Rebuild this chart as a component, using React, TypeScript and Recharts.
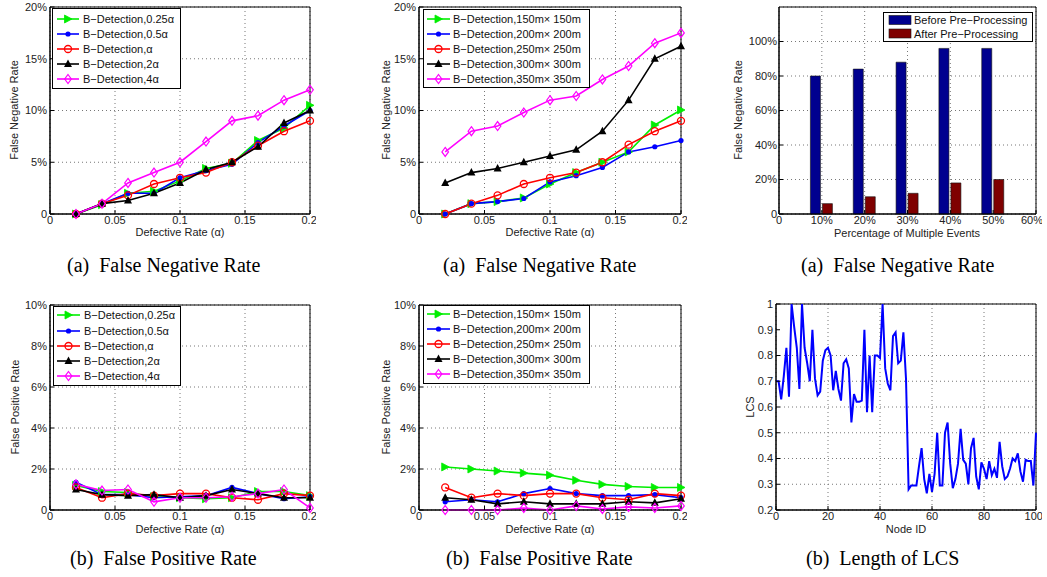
import React from 'react';
import { LineChart, Line, BarChart, Bar, XAxis, YAxis, CartesianGrid, ReferenceArea } from 'recharts';

// x values shared by the four rate plots
const defectRates = [0.02, 0.04, 0.06, 0.08, 0.1, 0.12, 0.14, 0.16, 0.18, 0.2];
const rateTicks = [0, 0.05, 0.1, 0.15, 0.2];

const toleranceLabels = ['B−Detection,0.25α', 'B−Detection,0.5α', 'B−Detection,α', 'B−Detection,2α', 'B−Detection,4α'];
const areaLabels = ['B−Detection,150m× 150m', 'B−Detection,200m× 200m', 'B−Detection,250m× 250m', 'B−Detection,300m× 300m', 'B−Detection,350m× 350m'];

// false negative rate (%) vs tolerance
const fnTol025 = [0, 0.9, 2.0, 2.2, 3.2, 4.4, 4.9, 7.1, 8.3, 10.5];
const fnTol05 = [0, 1.0, 2.0, 2.0, 3.5, 4.2, 4.8, 6.9, 8.5, 10.0];
const fnTol1 = [0, 1.0, 1.8, 2.9, 3.5, 4.0, 5.0, 6.6, 8.0, 9.0];
const fnTol2 = [0, 1.0, 1.3, 2.0, 3.0, 4.3, 5.0, 6.5, 8.8, 10.0];
const fnTol4 = [0, 1.0, 3.0, 4.0, 5.0, 7.0, 9.0, 9.5, 11.0, 12.0];

// false negative rate (%) vs field size
const fnArea150 = [0, 1.0, 1.2, 1.55, 2.9, 4.0, 5.0, 6.0, 8.6, 10.05];
const fnArea200 = [0, 1.0, 1.2, 1.5, 3.1, 3.7, 4.5, 6.0, 6.5, 7.1];
const fnArea250 = [0, 1.0, 1.8, 2.9, 3.5, 4.0, 5.0, 6.7, 8.0, 9.0];
const fnArea300 = [3.0, 4.0, 4.4, 5.0, 5.6, 6.2, 8.0, 11.0, 15.0, 16.2];
const fnArea350 = [6.0, 8.0, 8.5, 9.8, 11.0, 11.4, 13.0, 14.3, 16.5, 17.5];

// false positive rate (%) vs tolerance
const fpTol025 = [1.2, 0.9, 0.85, 0.65, 0.6, 0.55, 0.6, 0.9, 0.9, 0.7];
const fpTol05 = [1.35, 0.75, 0.75, 0.6, 0.65, 0.7, 1.1, 0.8, 0.55, 0.65];
const fpTol1 = [1.1, 0.6, 0.8, 0.7, 0.8, 0.8, 0.6, 0.5, 0.8, 0.7];
const fpTol2 = [1.0, 0.75, 0.7, 0.75, 0.6, 0.7, 1.0, 0.8, 0.6, 0.6];
const fpTol4 = [1.25, 0.95, 1.0, 0.4, 0.6, 0.6, 0.65, 0.8, 1.0, 0.1];

// false positive rate (%) vs field size
const fpArea150 = [2.1, 2.0, 1.9, 1.8, 1.7, 1.45, 1.25, 1.15, 1.1, 1.1];
const fpArea200 = [0.4, 0.5, 0.4, 0.8, 1.05, 0.8, 0.7, 0.7, 0.75, 0.6];
const fpArea250 = [1.1, 0.6, 0.8, 0.7, 0.8, 0.8, 0.6, 0.5, 0.8, 0.7];
const fpArea300 = [0.6, 0.5, 0.3, 0.4, 0.3, 0.3, 0.3, 0.4, 0.35, 0.55];
const fpArea350 = [0, 0, 0, 0.1, 0, 0.2, 0.05, 0.15, 0.1, 0.2];

// multiple events
const eventPcts = [10, 20, 30, 40, 50];
const beforePre = [80, 84, 88, 96, 96];
const afterPre = [6, 10, 12, 18, 20];

// LCS per node, node 0..100
const lcs = [
  0.70, 0.70, 0.63, 0.72, 0.83, 0.64, 1.0, 0.91, 0.83, 0.67,
  1.0, 0.83, 0.77, 0.70, 0.90, 0.71, 0.645, 0.66, 0.78, 0.82,
  0.83, 0.80, 0.665, 0.74, 0.67, 0.625, 0.77, 0.785, 0.75, 0.54,
  0.65, 0.62, 0.62, 0.625, 0.90, 0.58, 0.80, 0.58, 0.80, 0.80,
  0.79, 1.0, 0.75, 0.69, 0.665, 0.875, 0.89, 0.77, 0.78, 0.89,
  0.71, 0.28, 0.295, 0.295, 0.295, 0.37, 0.44, 0.32, 0.265, 0.34,
  0.27, 0.34, 0.50, 0.295, 0.295, 0.50, 0.54, 0.38, 0.285, 0.32,
  0.38, 0.515, 0.395, 0.38, 0.30, 0.44, 0.48, 0.33, 0.28, 0.385,
  0.36, 0.32, 0.39, 0.335, 0.36, 0.325, 0.465, 0.37, 0.32, 0.33,
  0.36, 0.40, 0.39, 0.42, 0.35, 0.31, 0.395, 0.39, 0.39, 0.295,
  0.50,
];

const styles = [
  { color: '#00ee00', marker: 'right' },
  { color: '#0000ff', marker: 'dot' },
  { color: '#ff0000', marker: 'circle' },
  { color: '#000000', marker: 'up' },
  { color: '#ff00ff', marker: 'diamond' },
];

const AXIS_FONT = '"Liberation Sans", Arial, sans-serif';
const tickStyle = { fontSize: 11, fill: '#222', fontFamily: AXIS_FONT };
const YW = 46;
const XH = 22;
const PT = 6;
const PR = 6;

type Box = { x0: number; x1: number; y0: number; y1: number };

const chartProps = (b: Box) => ({
  width: b.x1 - b.x0 + YW + PR,
  height: b.y1 - b.y0 + PT + XH,
  margin: { top: PT, right: PR, left: 0, bottom: 0 },
});

const wrapStyle = (b: Box): React.CSSProperties => ({ position: 'absolute', left: b.x0 - YW, top: b.y0 - PT });

function Marker({ kind, x, y, color }: { kind: string; x: number; y: number; color: string }) {
  switch (kind) {
    case 'right':
      return <polygon points={`${x - 3.5},${y - 4} ${x - 3.5},${y + 4} ${x + 4},${y}`} fill={color} stroke={color} strokeWidth={0.8} />;
    case 'dot':
      return <circle cx={x} cy={y} r={2.6} fill={color} />;
    case 'circle':
      return <circle cx={x} cy={y} r={3.5} fill="none" stroke={color} strokeWidth={1.3} />;
    case 'up':
      return <polygon points={`${x},${y - 4.5} ${x - 4},${y + 3} ${x + 4},${y + 3}`} fill={color} />;
    default:
      return <polygon points={`${x},${y - 4.5} ${x + 3.3},${y} ${x},${y + 4.5} ${x - 3.3},${y}`} fill="none" stroke={color} strokeWidth={1.2} />;
  }
}

const pctFmt = (v: number) => (v === 0 ? '0' : `${v}%`);

function Txt({ x, y, children, size = 11, rotate = false, serif = false, anchor = 'middle' }: any) {
  return (
    <div
      style={{
        position: 'absolute',
        left: x,
        top: y,
        transform: `translate(${anchor === 'start' ? '0' : '-50%'}, -50%)${rotate ? ' rotate(-90deg)' : ''}`,
        fontSize: size,
        fontFamily: serif ? '"Liberation Serif", "Times New Roman", serif' : AXIS_FONT,
        color: serif ? '#000' : '#222',
        whiteSpace: 'pre',
        lineHeight: 1,
      }}
    >
      {children}
    </div>
  );
}

function LineLegend({ x, y, w, h, rows, labels, lineX0, lineX1, textX }: any) {
  return (
    <svg style={{ position: 'absolute', left: x, top: y }} width={w + 1} height={h + 1}>
      <rect x={0.5} y={0.5} width={w} height={h} fill="#fff" stroke="#000" strokeWidth={1} />
      {labels.map((lab: string, i: number) => {
        const cy = rows[i] - y;
        const s = styles[i];
        return (
          <g key={lab}>
            <line x1={lineX0 - x} x2={lineX1 - x} y1={cy} y2={cy} stroke={s.color} strokeWidth={1.6} />
            <Marker kind={s.marker} x={(lineX0 + lineX1) / 2 - x} y={cy} color={s.color} />
            <text x={textX - x} y={cy + 4} fontSize={11} fontFamily={AXIS_FONT} fill="#111">{lab}</text>
          </g>
        );
      })}
    </svg>
  );
}

function RatePanel({ box, series, yMax, yTicks }: { box: Box; series: number[][]; yMax: number; yTicks: number[] }) {
  const rows = defectRates.map((r, i) => {
    const row: any = { rate: r };
    series.forEach((s, k) => (row[`s${k}`] = s[i]));
    return row;
  });
  return (
    <div style={wrapStyle(box)}>
      <LineChart {...chartProps(box)} data={rows}>
        <CartesianGrid stroke="#777" strokeDasharray="1 3" />
        <XAxis
          dataKey="rate"
          type="number"
          domain={[0, 0.2]}
          ticks={rateTicks}
          tickFormatter={(v: number) => (v === 0 ? '0' : String(v))}
          height={XH}
          tick={tickStyle}
          tickSize={-4}
          tickMargin={6}
          stroke="#000"
        />
        <YAxis
          type="number"
          domain={[0, yMax]}
          ticks={yTicks}
          tickFormatter={pctFmt}
          width={YW}
          tick={tickStyle}
          tickSize={-4}
          tickMargin={7}
          stroke="#000"
        />
        {series.map((_, k) => (
          <Line
            key={k}
            dataKey={`s${k}`}
            type="linear"
            stroke={styles[k].color}
            strokeWidth={1.6}
            isAnimationActive={false}
            dot={(p: any) => (
              <g key={`d${k}-${p.index}`}>
                <Marker kind={styles[k].marker} x={p.cx} y={p.cy} color={styles[k].color} />
              </g>
            )}
          />
        ))}
        <ReferenceArea x1={0} x2={0.2} y1={0} y2={yMax} fill="none" stroke="#000" strokeWidth={1} strokeOpacity={1} />
      </LineChart>
    </div>
  );
}

const box1: Box = { x0: 50, x1: 310, y0: 7, y1: 214 };
const box2: Box = { x0: 419, x1: 681, y0: 7, y1: 214 };
const box3: Box = { x0: 779, x1: 1036, y0: 7, y1: 214 };
const box4: Box = { x0: 50, x1: 310, y0: 305, y1: 510 };
const box5: Box = { x0: 419, x1: 681, y0: 305, y1: 510 };
const box6: Box = { x0: 776, x1: 1036, y0: 304, y1: 510 };

export default function App() {
  const eventRows = eventPcts.map((p, i) => ({ pct: p, before: beforePre[i], after: afterPre[i] }));
  const lcsRows = lcs.map((v, i) => ({ node: i, lcs: v }));
  return (
    <div style={{ position: 'absolute', left: 0, top: 0, width: 1047, height: 577, background: '#fff', overflow: 'hidden' }}>
      <RatePanel box={box1} series={[fnTol025, fnTol05, fnTol1, fnTol2, fnTol4]} yMax={20} yTicks={[0, 5, 10, 15, 20]} />
      <RatePanel box={box2} series={[fnArea150, fnArea200, fnArea250, fnArea300, fnArea350]} yMax={20} yTicks={[0, 5, 10, 15, 20]} />
      <RatePanel box={box4} series={[fpTol025, fpTol05, fpTol1, fpTol2, fpTol4]} yMax={10} yTicks={[0, 2, 4, 6, 8, 10]} />
      <RatePanel box={box5} series={[fpArea150, fpArea200, fpArea250, fpArea300, fpArea350]} yMax={10} yTicks={[0, 2, 4, 6, 8, 10]} />

      <div style={wrapStyle(box3)}>
        <BarChart {...chartProps(box3)} data={eventRows} barSize={10} barGap={2}>
          <CartesianGrid stroke="#777" strokeDasharray="1 3" />
          <XAxis
            dataKey="pct"
            type="number"
            domain={[0, 60]}
            ticks={[0, 10, 20, 30, 40, 50, 60]}
            tickFormatter={pctFmt}
            height={XH}
            tick={tickStyle}
            tickSize={-4}
            tickMargin={6}
            stroke="#000"
          />
          <YAxis
            type="number"
            domain={[0, 120]}
            ticks={[0, 20, 40, 60, 80, 100]}
            tickFormatter={pctFmt}
            width={YW}
            tick={tickStyle}
            tickSize={-4}
            tickMargin={6}
            stroke="#000"
          />
          <Bar dataKey="before" fill="#00008f" stroke="#111" strokeWidth={0.6} isAnimationActive={false} />
          <Bar dataKey="after" fill="#7f0000" stroke="#111" strokeWidth={0.6} isAnimationActive={false} />
          <ReferenceArea x1={0} x2={60} y1={0} y2={120} fill="none" stroke="#000" strokeWidth={1} strokeOpacity={1} />
        </BarChart>
      </div>

      <div style={wrapStyle(box6)}>
        <LineChart {...chartProps(box6)} data={lcsRows}>
          <CartesianGrid stroke="#777" strokeDasharray="1 3" />
          <XAxis
            dataKey="node"
            type="number"
            domain={[0, 100]}
            ticks={[0, 20, 40, 60, 80, 100]}
            height={XH}
            tick={tickStyle}
            tickSize={-4}
            tickMargin={6}
            stroke="#000"
          />
          <YAxis
            type="number"
            domain={[0.2, 1]}
            ticks={[0.2, 0.3, 0.4, 0.5, 0.6, 0.7, 0.8, 0.9, 1]}
            tickFormatter={(v: number) => (v === 1 ? '1' : v.toFixed(1))}
            width={YW}
            tick={tickStyle}
            tickSize={-4}
            tickMargin={7}
            stroke="#000"
          />
          <Line dataKey="lcs" type="linear" stroke="#0000ff" strokeWidth={2} dot={false} isAnimationActive={false} />
          <ReferenceArea x1={0} x2={100} y1={0.2} y2={1} fill="none" stroke="#000" strokeWidth={1} strokeOpacity={1} />
        </LineChart>
      </div>

      <LineLegend x={52} y={8} w={128} h={80} rows={[19, 34, 49, 64, 79]} labels={toleranceLabels} lineX0={57} lineX1={79} textX={83} />
      <LineLegend x={423} y={9} w={166} h={78} rows={[19, 34, 49, 64, 79]} labels={areaLabels} lineX0={427} lineX1={450} textX={453} />
      <LineLegend x={53} y={306} w={127} h={79} rows={[315, 331, 346, 361, 376]} labels={toleranceLabels} lineX0={57} lineX1={80} textX={84} />
      <LineLegend x={423} y={305} w={166} h={78} rows={[314, 329, 344, 359, 374]} labels={areaLabels} lineX0={427} lineX1={450} textX={453} />

      <svg style={{ position: 'absolute', left: 883, top: 12 }} width={150} height={31}>
        <rect x={0.5} y={0.5} width={149} height={29} fill="#fff" stroke="#000" />
        <rect x={6} y={3.5} width={22} height={9} fill="#00008f" stroke="#111" strokeWidth={0.6} />
        <text x={31} y={12} fontSize={11} fontFamily={AXIS_FONT} fill="#111">Before Pre−Processing</text>
        <rect x={6} y={17} width={22} height={9} fill="#7f0000" stroke="#111" strokeWidth={0.6} />
        <text x={31} y={26} fontSize={11} fontFamily={AXIS_FONT} fill="#111">After Pre−Processing</text>
      </svg>

      <Txt x={14} y={110} rotate>False Negative Rate</Txt>
      <Txt x={386} y={110} rotate>False Negative Rate</Txt>
      <Txt x={738} y={110} rotate>False Negative Rate</Txt>
      <Txt x={15} y={407} rotate>False Positive Rate</Txt>
      <Txt x={386} y={407} rotate>False Positive Rate</Txt>
      <Txt x={750} y={407} rotate>LCS</Txt>

      <Txt x={180} y={232}>Defective Rate (α)</Txt>
      <Txt x={550} y={232}>Defective Rate (α)</Txt>
      <Txt x={907} y={233}>Percentage of Multiple Events</Txt>
      <Txt x={180} y={529}>Defective Rate (α)</Txt>
      <Txt x={550} y={529}>Defective Rate (α)</Txt>
      <Txt x={906} y={529}>Node ID</Txt>

      <Txt x={67} y={265} size={20} serif anchor="start">{'(a)  False Negative Rate'}</Txt>
      <Txt x={443} y={265} size={20} serif anchor="start">{'(a)  False Negative Rate'}</Txt>
      <Txt x={801} y={265} size={20} serif anchor="start">{'(a)  False Negative Rate'}</Txt>
      <Txt x={70} y={558} size={20} serif anchor="start">{'(b)  False Positive Rate'}</Txt>
      <Txt x={446} y={558} size={20} serif anchor="start">{'(b)  False Positive Rate'}</Txt>
      <Txt x={806} y={558} size={20} serif anchor="start">{'(b)  Length of LCS'}</Txt>
    </div>
  );
}
